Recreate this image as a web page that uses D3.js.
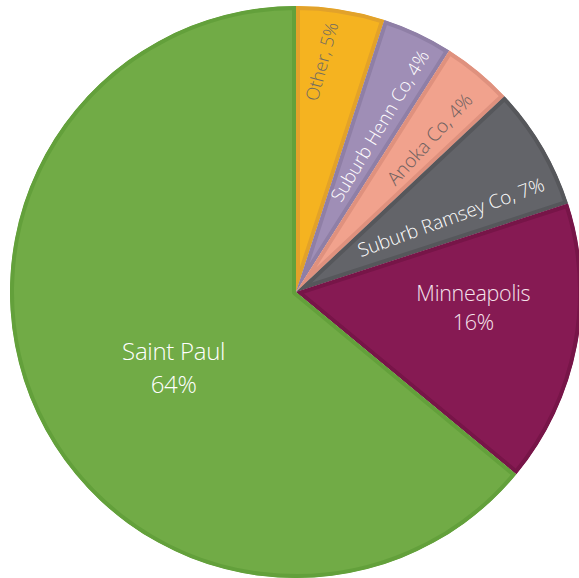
<!DOCTYPE html>
<html>
<head>
<meta charset="utf-8">
<script src="https://cdn.jsdelivr.net/npm/d3@7"></script>
<style>
  body { margin: 0; background: #fff; }
  svg { display: block; }
</style>
</head>
<body>
<div class="canvas"></div>
<script>
// slices, clockwise from 12 o'clock
const names = ['Other', 'Suburb Henn Co', 'Anoka Co', 'Suburb Ramsey Co', 'Minneapolis', 'Saint Paul'];
const shares = [5, 4, 4, 7, 16, 64];
const labels = [['Other, 5%'], ['Suburb Henn Co, 4%'], ['Anoka Co, 4%'], ['Suburb Ramsey Co, 7%'], ['Minneapolis', '16%'], ['Saint Paul', '64%']];

const fills   = ['#F5B320', '#9F8EB6', '#F1A28D', '#636469', '#861A53', '#71AB46'];
const borders = ['#E2A22A', '#8F7FA6', '#DF917E', '#56575B', '#771548', '#63A03B'];
const textColors = ['#6f6a63', '#ffffff', '#6e6160', '#ffffff', '#f5e3ec', '#ffffff'];

const width = 579, height = 578;
const cx = 296, cy = 292, radius = 286;

// label placement: radius, angle (deg from top), rotation, font size
const labelLayout = [
    { r: 232, a: 6.4,  rot: -75,   size: 18 },
    { r: 186, a: 26.8, rot: -59,   size: 18.5 },
    { r: 203, a: 41.2, rot: -47.5, size: 19 },
    { r: 172, a: 64.3, rot: -20,   size: 19 },
    { r: 178, a: 95.1, rot: 0,     size: 21.5 },
    { r: 144, a: 238.2, rot: 0,    size: 24 }
];

const svg = d3.select('.canvas').append('svg')
    .attr('width', width)
    .attr('height', height);

const graph = svg.append('g')
    .attr('transform', `translate(${cx}, ${cy})`);

const pie = d3.pie().sort(null).value(d => d);
const arcs = pie(shares);

const arc = d3.arc().innerRadius(0).outerRadius(radius);

const defs = svg.append('defs');
arcs.forEach((d, i) => {
    defs.append('clipPath')
        .attr('id', `clip-${i}`)
        .append('path')
        .attr('d', arc(d));
});

graph.selectAll('path.slice')
    .data(arcs)
    .enter()
    .append('path')
    .attr('class', 'slice')
    .attr('d', arc)
    .attr('fill', (d, i) => fills[i])
    .attr('stroke', (d, i) => borders[i])
    .attr('stroke-width', 8)
    .attr('stroke-linejoin', 'round')
    .attr('clip-path', (d, i) => `url(#clip-${i})`);

// labels, one text per line
arcs.forEach((d, i) => {
    const L = labelLayout[i];
    const rad = L.a * Math.PI / 180;
    const x = L.r * Math.sin(rad);
    const y = -L.r * Math.cos(rad);
    const lines = labels[i];
    const spacing = L.size * 1.38;
    const g = graph.append('g')
        .attr('transform', `translate(${x}, ${y}) rotate(${L.rot})`);
    lines.forEach((line, j) => {
        g.append('text')
            .attr('text-anchor', 'middle')
            .attr('font-family', "'Open Sans', 'Lato', sans-serif")
            .attr('font-weight', 300)
            .attr('font-size', L.size)
            .attr('letter-spacing', lines.length > 1 ? -0.3 : 0)
            .attr('fill', textColors[i])
            .attr('x', 0)
            .attr('y', (j - (lines.length - 1) / 2) * spacing + L.size * 0.35)
            .text(line);
    });
});
</script>
</body>
</html>
